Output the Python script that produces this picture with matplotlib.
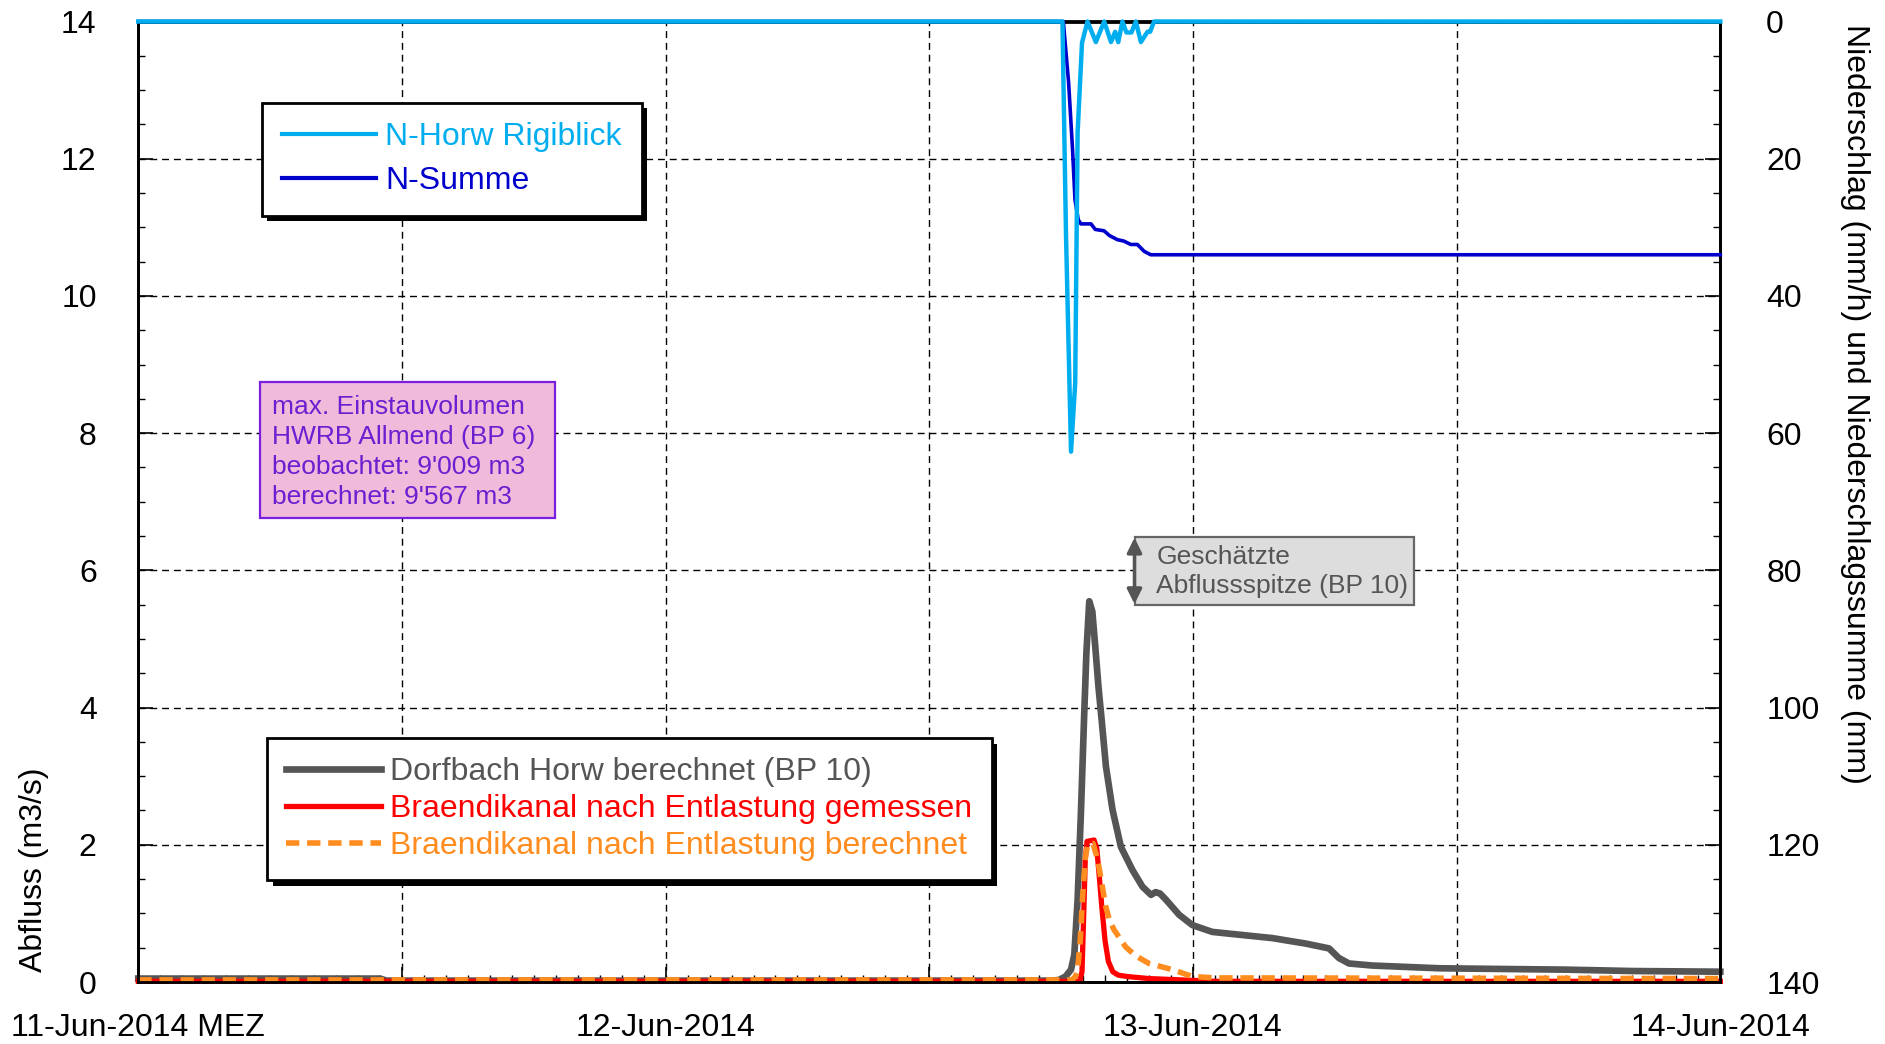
import numpy as np
import pandas as pd
import matplotlib
matplotlib.use("Agg")
import matplotlib.pyplot as plt
import matplotlib.dates as mdates
import matplotlib.patheffects as pe
from matplotlib.patches import Rectangle
from matplotlib.ticker import MultipleLocator, FixedLocator

plt.rcParams['font.family'] = ['Liberation Sans', 'DejaVu Sans']

START = pd.Timestamp('2014-06-11 00:00')

# --- Abfluss (m3/s), time in hours since 11-Jun-2014 00:00 ---
dorf_h = [0, 11.0, 11.3, 41.6, 41.9, 42.2, 42.45, 42.6, 42.75, 42.9, 43.05, 43.15,
          43.28, 43.42, 43.55, 43.7, 43.85, 44.04, 44.34, 44.72, 45.25, 45.7, 46.09,
          46.3, 46.5, 46.77, 47.37, 47.97, 48.88, 50.09, 51.61, 53.13, 54.19, 54.64,
          55.1, 56.16, 59.2, 62, 65, 68, 72]
dorf_q = [0.05, 0.05, 0.02, 0.02, 0.03, 0.08, 0.18, 0.4, 1.2, 2.46, 3.9, 4.8,
          5.55, 5.4, 4.9, 4.3, 3.8, 3.14, 2.51, 1.97, 1.63, 1.39, 1.27,
          1.31, 1.29, 1.20, 0.98, 0.83, 0.73, 0.69, 0.64, 0.56, 0.49, 0.35,
          0.27, 0.24, 0.20, 0.19, 0.18, 0.16, 0.15]

gem_h = [0, 42.85, 42.95, 43.02, 43.1, 43.18, 43.5, 43.62, 43.72, 43.85, 44.0,
         44.15, 44.35, 44.6, 45.0, 46.0, 47.5, 49.0, 72]
gem_q = [0.01, 0.01, 0.15, 0.9, 1.8, 2.05, 2.07, 1.95, 1.6, 1.1, 0.6,
         0.3, 0.15, 0.1, 0.08, 0.05, 0.03, 0.01, 0.01]

ber_h = [0, 42.5, 42.65, 42.75, 42.87, 42.98, 43.1, 43.2, 43.45, 43.6, 43.72,
         43.87, 44.03, 44.2, 44.41, 44.94, 45.4, 46.0, 47.07, 47.97, 49.0, 72]
ber_q = [0.03, 0.03, 0.08, 0.17, 0.6, 1.24, 1.8, 2.0, 2.02, 1.85, 1.68,
         1.4, 1.1, 0.9, 0.76, 0.51, 0.38, 0.27, 0.18, 0.08, 0.06, 0.05]

# --- Niederschlag ---
rigi_h = [0, 42.06, 42.22, 42.45, 42.64, 42.75, 42.95, 43.2, 43.58, 43.96, 44.27,
          44.46, 44.6, 44.79, 44.97, 45.2, 45.4, 45.63, 45.93, 46.05, 46.23, 72]
rigi_i = [0, 0, 30.8, 62.7, 52.7, 16.2, 3.1, 0, 3.0, 0, 3.0,
          1.5, 3.0, 0, 1.6, 1.6, 0, 3.0, 1.5, 1.5, 0, 0]

summe_h = [0, 42.1, 42.34, 42.52, 42.63, 42.78, 42.9, 43.36, 43.55, 43.73, 43.95,
           44.2, 44.56, 44.85, 45.17, 45.47, 45.78, 46.08, 72]
summe_mm = [0, 0, 8.9, 18.7, 26.0, 28.9, 29.5, 29.5, 30.3, 30.4, 30.5,
            31.2, 31.8, 32.0, 32.5, 32.5, 33.5, 34.0, 34.0]

x_tick_hours = [0, 12, 24, 36, 48, 60, 72]
x_tick_labels = ['11-Jun-2014 MEZ', '', '12-Jun-2014', '', '13-Jun-2014', '', '14-Jun-2014']

info_lines = ['max. Einstauvolumen', 'HWRB Allmend (BP 6)',
              'beobachtet: 9\'009 m3', 'berechnet: 9\'567 m3']
peak_lines = ['Geschätzte', 'Abflussspitze (BP 10)']


def to_dates(hours):
    return mdates.date2num(START + pd.to_timedelta(np.asarray(hours, float), unit='h'))


C_CYAN = '#00AEEF'
C_BLUE = '#0000CC'
C_GRAY = '#555555'
C_RED = '#FF0000'
C_ORANGE = '#FF8C1F'
FS = 23

fig = plt.figure(figsize=(18.85, 10.44), dpi=100)
ax = fig.add_axes([138.3 / 1885, 62 / 1044, 1582 / 1885, 960.5 / 1044])
ax2 = ax.twinx()

# discharge lines
l1, = ax.plot(to_dates(dorf_h), dorf_q, color=C_GRAY, lw=4.8, zorder=3, clip_on=False,
              label='Dorfbach Horw berechnet (BP 10)')
l2, = ax.plot(to_dates(gem_h), gem_q, color=C_RED, lw=3.8, zorder=3, clip_on=False,
              label='Braendikanal nach Entlastung gemessen')
l3, = ax.plot(to_dates(ber_h), ber_q, color=C_ORANGE, lw=4.0, zorder=3, clip_on=False,
              linestyle=(0, (2.4, 1.4)), label='Braendikanal nach Entlastung berechnet')

# precipitation lines (inverted right axis)
r2, = ax2.plot(to_dates(summe_h), summe_mm, color=C_BLUE, lw=2.6, zorder=3, clip_on=False,
               label='N-Summe')
r1, = ax2.plot(to_dates(rigi_h), rigi_i, color=C_CYAN, lw=3.2, zorder=3.1, clip_on=False,
               label='N-Horw Rigiblick')

# axes limits and ticks
xt = to_dates(x_tick_hours)
ax.set_xlim(xt[0], xt[-1])
ax.set_ylim(0, 14)
ax2.set_ylim(140, 0)

ax.xaxis.set_major_locator(FixedLocator(xt))
ax.set_xticklabels(x_tick_labels)
ax.xaxis.set_minor_locator(FixedLocator(to_dates(np.arange(0, 73, 1))))
ax.yaxis.set_major_locator(MultipleLocator(2))
ax.yaxis.set_minor_locator(MultipleLocator(0.5))
ax2.yaxis.set_major_locator(MultipleLocator(20))
ax2.yaxis.set_minor_locator(MultipleLocator(5))

ax.tick_params(axis='both', which='major', direction='in', length=11, width=1.2,
               labelsize=FS, colors='black')
ax.tick_params(axis='both', which='minor', direction='in', length=5, width=1.0)
ax.tick_params(axis='y', which='major', pad=30)
ax.tick_params(axis='x', which='major', pad=22)
ax.tick_params(axis='x', which='both', top=False)
ax2.tick_params(axis='y', which='major', direction='in', length=11, width=1.2,
                labelsize=FS, pad=33)
ax2.tick_params(axis='y', which='minor', direction='in', length=5, width=1.0)
for lab in ax2.get_yticklabels():
    lab.set_horizontalalignment('left')

for a in (ax, ax2):
    for s in a.spines.values():
        s.set_linewidth(2.0)
        s.set_color('black')

ax.grid(True, which='major', color='black', lw=1.0, linestyle=(0, (5, 3.5)))
ax.set_axisbelow(True)

# axis titles
fig.text(34 / 1885, (1044 - 972) / 1044, 'Abfluss (m3/s)', rotation=90,
         ha='center', va='bottom', fontsize=FS)
fig.text(1855 / 1885, (1044 - 24) / 1044,
         'Niederschlag (mm/h) und Niederschlagssumme (mm)', rotation=270,
         ha='center', va='top', fontsize=FS)

# legends with drop shadows
shadow = [pe.SimplePatchShadow(offset=(4, -4), shadow_rgbFace='black', alpha=1.0),
          pe.Normal()]

leg2 = ax2.legend(handles=[r1, r2], loc='upper left', bbox_to_anchor=(0.078, 0.9156),
                  borderaxespad=0, fontsize=FS, labelcolor='linecolor', fancybox=False,
                  framealpha=1, edgecolor='black', handlelength=2.95, handletextpad=0.3,
                  labelspacing=0.42, borderpad=0.62)
leg2.get_frame().set_linewidth(2.0)
leg2.get_frame().set_path_effects(shadow)
for h in leg2.get_lines():
    h.set_linewidth(3.0)

leg1 = ax2.legend(handles=[l1, l2, l3], loc='upper left', bbox_to_anchor=(0.0815, 0.254),
                  borderaxespad=0, fontsize=FS, labelcolor='linecolor', fancybox=False,
                  framealpha=1, edgecolor='black', handlelength=2.95, handletextpad=0.3,
                  labelspacing=0.22, borderpad=0.6)
leg1.get_frame().set_linewidth(2.0)
leg1.get_frame().set_path_effects(shadow)
ax2.add_artist(leg2)

# info box: retention volume
ax.add_patch(Rectangle((0.0769, 0.4833), 0.1863, 0.1417, transform=ax.transAxes,
                       facecolor='#F0BBDB', edgecolor='#7A1FE0', lw=1.6, zorder=4))
for i, line in enumerate(info_lines):
    ax.text(0.0845, 0.599 - i * 0.0313, line, transform=ax.transAxes, fontsize=19,
            color='#6A1FD0', ha='left', va='center', zorder=5)

# estimated peak box with double arrow
ax.add_patch(Rectangle((0.630, 0.3927), 0.1764, 0.0708, transform=ax.transAxes,
                       facecolor='#DCDDDC', edgecolor='#666666', lw=1.6, zorder=4))
for i, line in enumerate(peak_lines):
    ax.text(0.6434, 0.4427 - i * 0.030, line, transform=ax.transAxes, fontsize=19,
            color=C_GRAY, ha='left', va='center', zorder=5)
ax.annotate('', xy=(0.6297, 0.3935), xytext=(0.6297, 0.4625), xycoords='axes fraction',
            arrowprops=dict(arrowstyle='<|-|>', color=C_GRAY, lw=2.5, mutation_scale=22,
                            shrinkA=0, shrinkB=0), zorder=6)

fig.savefig('out.png', dpi=100)
